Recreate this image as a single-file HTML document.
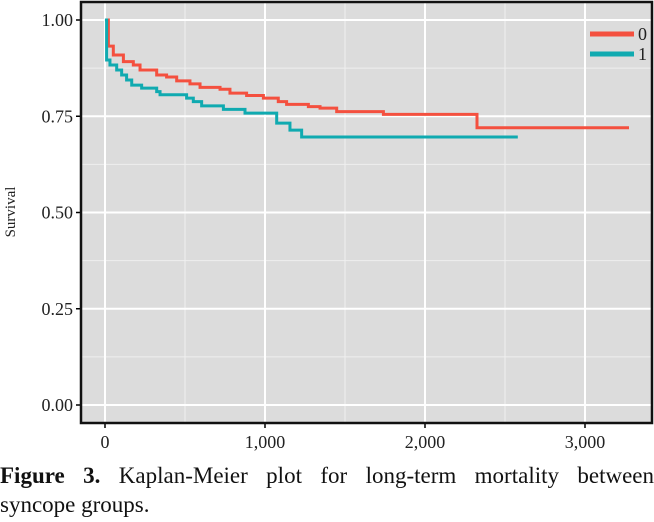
<!DOCTYPE html>
<html><head><meta charset="utf-8"><style>
body{margin:0;background:#fff;width:654px;height:522px;overflow:hidden;font-family:"Liberation Serif",serif}
svg text{font-family:"Liberation Serif",serif}
.cap{position:absolute;left:0;width:654px;font-size:23px;line-height:29px;color:#111}
.l1{top:461px;text-align:justify;text-align-last:justify}
.l2{top:490px}
</style></head><body>
<svg id="chart" width="654" height="460" style="position:absolute;left:0;top:0"></svg>
<div>
<div class="cap l1"><b>Figure 3.</b> Kaplan-Meier plot for long-term mortality between</div>
<div class="cap l2">syncope groups.</div>
</div>
<script>
const groupNames=["0","1"];
const times0=[0,21,52,115,177,219,323,385,448,531,594,719,781,885,990,1083,1135,1271,1344,1448,1740,2325,3275];
const surv0=[1,0.932,0.909,0.892,0.883,0.870,0.857,0.852,0.842,0.834,0.825,0.820,0.810,0.804,0.797,0.788,0.781,0.775,0.771,0.762,0.755,0.72,0.72];
const times1=[0,10,31,73,104,135,167,229,323,344,510,552,604,740,875,1073,1156,1229,2580];
const surv1=[1,0.896,0.883,0.870,0.857,0.844,0.831,0.823,0.814,0.806,0.797,0.788,0.777,0.768,0.758,0.732,0.714,0.696,0.696];
const xTicks=[0,1000,2000,3000];
const xTickLabels=["0","1,000","2,000","3,000"];
const yTicks=[0,0.25,0.5,0.75,1];
const yTickLabels=["0.00","0.25","0.50","0.75","1.00"];
const colors=["#f4503f","#10aab0"];
const L=81,R=652,T=2,B=423;
const x=t=>105+t*0.16;
const y=s=>405-s*385;
const svg=document.getElementById('chart');
const NS='http://www.w3.org/2000/svg';
function mk(tag,attrs){const e=document.createElementNS(NS,tag);for(const k in attrs)e.setAttribute(k,attrs[k]);svg.appendChild(e);return e;}
let bg=mk('rect',{x:L,y:T,width:R-L,height:B-T,fill:'#dcdcdc'});


for(let i=0;i<xTicks.length;i++){
  const v=xTicks[i]+500;
  if(x(v)<R){const m=mk('line',{x1:x(v),x2:x(v),y1:T,y2:B,stroke:'#efefef','stroke-width':1});
  
  }
}
for(let i=0;i<yTicks.length-1;i++){
  const v=yTicks[i]+0.125;
  const m=mk('line',{x1:L,x2:R,y1:y(v),y2:y(v),stroke:'#efefef','stroke-width':1});
  
  
}
xTicks.forEach((v,i)=>{
  const g=mk('line',{x1:x(v),x2:x(v),y1:T,y2:B,stroke:'#fff','stroke-width':2});
  
  
  const t=mk('line',{x1:x(v),x2:x(v),y1:B,y2:B+5,stroke:'#000','stroke-width':1.5});
  
  
  const l=mk('text',{x:x(v),y:B+25,'text-anchor':'middle','font-size':18,fill:'#222'});
  l.textContent=xTickLabels[i];
  
  
});
yTicks.forEach((v,i)=>{
  const g=mk('line',{x1:L,x2:R,y1:y(v),y2:y(v),stroke:'#fff','stroke-width':2});
  
  
  const t=mk('line',{x1:L-5,x2:L,y1:y(v),y2:y(v),stroke:'#000','stroke-width':1.5});
  
  
  const l=mk('text',{x:L-8,y:y(v)+6,'text-anchor':'end','font-size':18,fill:'#222'});
  l.textContent=yTickLabels[i];
  
  
});
function step(ts,ss){let d='M'+x(ts[0])+','+y(ss[0]);for(let i=1;i<ts.length;i++){d+=' H'+x(ts[i])+' V'+y(ss[i]);}return d;}
const c0=mk('path',{d:step(times0,surv0),fill:'none',stroke:colors[0],'stroke-width':3});


const c1=mk('path',{d:step(times1,surv1),fill:'none',stroke:colors[1],'stroke-width':3});


const fr=mk('rect',{x:L,y:T,width:R-L,height:B-T,fill:'none',stroke:'#111','stroke-width':2.5});


groupNames.forEach((n,i)=>{
  const ly=34+i*20;
  const ln=mk('line',{x1:590,x2:634,y1:ly,y2:ly,stroke:colors[i],'stroke-width':5});
  
  
  const t=mk('text',{x:638,y:ly+6,'font-size':18,fill:'#222'});
  t.textContent=n;
  
  
});
const yt=mk('text',{x:0,y:0,transform:'translate(15,212) rotate(-90)','text-anchor':'middle','font-size':15,fill:'#222'});
yt.textContent='Survival';


</script>
</body></html>
